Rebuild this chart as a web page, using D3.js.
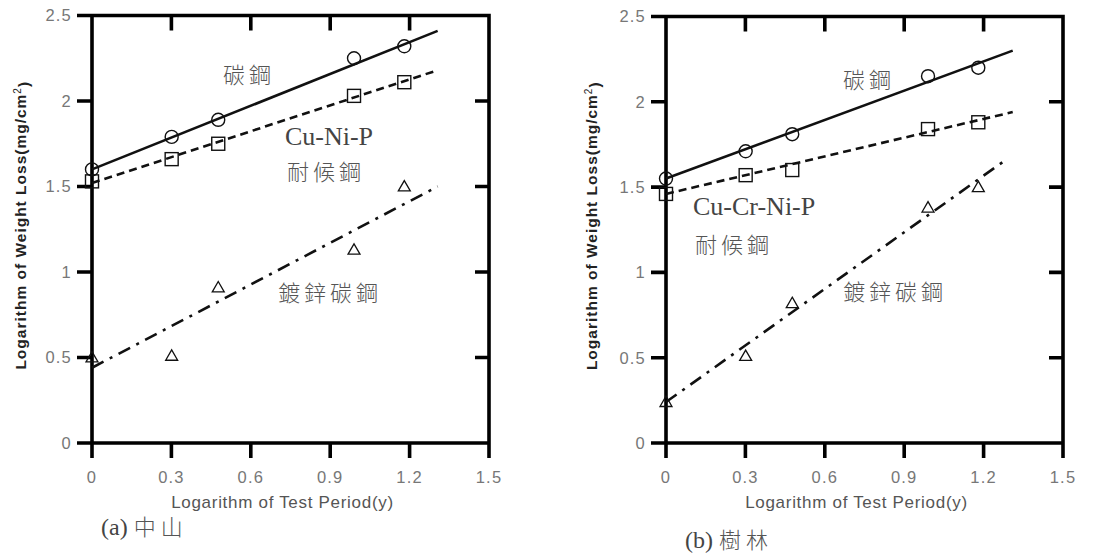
<!DOCTYPE html>
<html lang="zh-Hant">
<head>
<meta charset="UTF-8">
<title>weight loss</title>
<script src="https://d3js.org/d3.v7.min.js"></script>
<style>
    body { margin: 0; background: #fff; }
    .ticklabel { font: 16.5px "Liberation Sans", Arial, sans-serif; fill: #777; letter-spacing: 1.2px; }
    .xtitle { font: 17px "Liberation Sans", Arial, sans-serif; fill: #555; letter-spacing: 0.7px; }
    .ytitle { font: bold 15.5px "Liberation Sans", Arial, sans-serif; fill: #222; letter-spacing: 1px; }
    .note { font-family: "Noto Sans CJK TC", sans-serif; font-weight: 300; fill: #555; }
    .latin { font-family: "Liberation Serif", "Times New Roman", serif; fill: #444; }
</style>
</head>
<body>
<script>
// x values: log of exposure years
var years = [0, 0.301, 0.477, 0.99, 1.18];

// (a) 中山
var zsCarbon = [1.60, 1.79, 1.89, 2.25, 2.32];
var zsWeather = [1.53, 1.66, 1.75, 2.03, 2.11];
var zsGalv = [0.50, 0.51, 0.91, 1.13, 1.50];
// fitted lines, end points [x, y]
var zsCarbonFit = [[0, 1.60], [1.306, 2.41]];
var zsWeatherFit = [[0, 1.52], [1.306, 2.18]];
var zsGalvFit = [[0, 0.44], [1.306, 1.50]];

// (b) 樹林
var slCarbon = [1.55, 1.71, 1.81, 2.15, 2.20];
var slWeather = [1.46, 1.57, 1.60, 1.84, 1.88];
var slGalv = [0.24, 0.51, 0.82, 1.38, 1.50];
var slCarbonFit = [[0, 1.55], [1.31, 2.30]];
var slWeatherFit = [[0, 1.46], [1.31, 1.94]];
var slGalvFit = [[0, 0.24], [1.275, 1.65]];

var xTicks = [0, 0.3, 0.6, 0.9, 1.2, 1.5];
var yTicks = [0, 0.5, 1, 1.5, 2, 2.5];

var width = 1118, height = 556;

var svg = d3.select("body").append("svg")
    .attr("width", width)
    .attr("height", height);

var panels = [
    {
        left: 92, right: 489, top: 15.5, bottom: 443, ytitleX: 21,
        carbon: zsCarbon, weather: zsWeather, galv: zsGalv,
        fits: [zsCarbonFit, zsWeatherFit, zsGalvFit],
        tag: "(a)", place: "中山", capX: 101, capY: 535,
        notes: [
            {t: "碳鋼", x: 0.495, y: 2.107, cls: "note"},
            {t: "Cu-Ni-P", x: 0.729, y: 1.741, cls: "latin"},
            {t: "耐候鋼", x: 0.737, y: 1.539, cls: "note"},
            {t: "鍍鋅碳鋼", x: 0.703, y: 0.831, cls: "note"}
        ]
    },
    {
        left: 666, right: 1063, top: 16.5, bottom: 443, ytitleX: 592,
        carbon: slCarbon, weather: slWeather, galv: slGalv,
        fits: [slCarbonFit, slWeatherFit, slGalvFit],
        tag: "(b)", place: "樹林", capX: 685, capY: 548,
        notes: [
            {t: "碳鋼", x: 0.669, y: 2.08, cls: "note"},
            {t: "Cu-Cr-Ni-P", x: 0.102, y: 1.334, cls: "latin"},
            {t: "耐候鋼", x: 0.110, y: 1.114, cls: "note"},
            {t: "鍍鋅碳鋼", x: 0.669, y: 0.838, cls: "note"}
        ]
    }
];

var dashes = ["none", "8,5", "13,7,3,7"];
var axW = 3.6, tickLen = 15;

panels.forEach(function (p) {
    var x = d3.scaleLinear().domain([0, 1.5]).range([p.left, p.right]);
    var y = d3.scaleLinear().domain([0, 2.5]).range([p.bottom, p.top]);

    var g = svg.append("g");

    // frame and tick marks in one path: ticks outside on bottom/left, inside on top/right
    var fr = d3.path();
    fr.rect(p.left, p.top, p.right - p.left, p.bottom - p.top);
    xTicks.forEach(function (d) {
        fr.moveTo(x(d), p.bottom); fr.lineTo(x(d), p.bottom + tickLen);
    });
    xTicks.slice(1, 5).forEach(function (d) {
        fr.moveTo(x(d), p.top); fr.lineTo(x(d), p.top + tickLen);
    });
    yTicks.forEach(function (d) {
        fr.moveTo(p.left - tickLen, y(d)); fr.lineTo(p.left, y(d));
    });
    yTicks.slice(0, 5).forEach(function (d) {
        fr.moveTo(p.right - tickLen + 1, y(d)); fr.lineTo(p.right, y(d));
    });
    g.append("path")
        .attr("d", fr.toString())
        .attr("fill", "none")
        .attr("stroke", "#000")
        .attr("stroke-width", axW)
        .attr("stroke-linecap", "butt");

    // fitted lines
    var line = d3.line()
        .x(function (d) { return x(d[0]); })
        .y(function (d) { return y(d[1]); });

    p.fits.forEach(function (f, i) {
        g.append("path")
            .attr("d", line(f))
            .attr("fill", "none")
            .attr("stroke", "#111")
            .attr("stroke-width", 2.6)
            .attr("stroke-dasharray", dashes[i]);
    });

    // markers
    g.selectAll(".circ").data(p.carbon).enter().append("circle")
        .attr("cx", function (d, i) { return x(years[i]); })
        .attr("cy", function (d) { return y(d); })
        .attr("r", 6.5)
        .attr("fill", "none")
        .attr("stroke", "#111")
        .attr("stroke-width", 1.4);

    g.selectAll(".sq").data(p.weather).enter().append("rect")
        .attr("x", function (d, i) { return x(years[i]) - 6.5; })
        .attr("y", function (d) { return y(d) - 6.5; })
        .attr("width", 13)
        .attr("height", 13)
        .attr("fill", "none")
        .attr("stroke", "#111")
        .attr("stroke-width", 1.4);

    var tri = d3.symbol().type(d3.symbolTriangle).size(62);
    g.selectAll(".tri").data(p.galv).enter().append("path")
        .attr("d", tri)
        .attr("transform", function (d, i) {
            return "translate(" + x(years[i]) + "," + (y(d) + 1) + ")";
        })
        .attr("fill", "none")
        .attr("stroke", "#111")
        .attr("stroke-width", 1.3);

    // tick labels
    g.selectAll(".xl").data(xTicks).enter().append("text")
        .attr("class", "ticklabel")
        .attr("x", function (d) { return x(d); })
        .attr("y", p.bottom + 40)
        .attr("text-anchor", "middle")
        .text(function (d) { return d; });

    g.selectAll(".ylab").data(yTicks).enter().append("text")
        .attr("class", "ticklabel")
        .attr("x", p.left - 20)
        .attr("y", function (d) { return y(d); })
        .attr("dy", "0.36em")
        .attr("text-anchor", "end")
        .text(function (d) { return d; });

    // titles
    g.append("text")
        .attr("class", "xtitle")
        .attr("x", (p.left + p.right) / 2 - 8)
        .attr("y", p.bottom + 65)
        .attr("text-anchor", "middle")
        .text("Logarithm of Test Period(y)");

    var yt = g.append("text")
        .attr("class", "ytitle")
        .attr("transform", "translate(" + p.ytitleX + "," + ((p.top + p.bottom) / 2 - 4) + ") rotate(-90)")
        .attr("text-anchor", "middle")
        .attr("dy", "0.35em");
    yt.append("tspan").text("Logarithm of Weight Loss(mg/cm");
    yt.append("tspan").attr("dy", "-0.5em").attr("font-size", "10px").attr("font-weight", "normal").text("2");
    yt.append("tspan").attr("dy", "0.5em").text(")");

    // notes
    p.notes.forEach(function (n) {
        g.append("text")
            .attr("class", n.cls)
            .attr("x", x(n.x))
            .attr("y", y(n.y))
            .attr("font-size", n.cls === "note" ? "22px" : "26px")
            .attr("letter-spacing", n.cls === "note" ? "4px" : "0px")
            .text(n.t);
    });

    var cap = g.append("text")
        .attr("x", p.capX)
        .attr("y", p.capY)
        .attr("fill", "#333");
    cap.append("tspan").attr("class", "latin").attr("font-size", "24px").text(p.tag + " ");
    cap.append("tspan").attr("class", "note").attr("font-size", "22px").attr("letter-spacing", "5px")
        .text(p.place);
});
</script>
</body>
</html>
